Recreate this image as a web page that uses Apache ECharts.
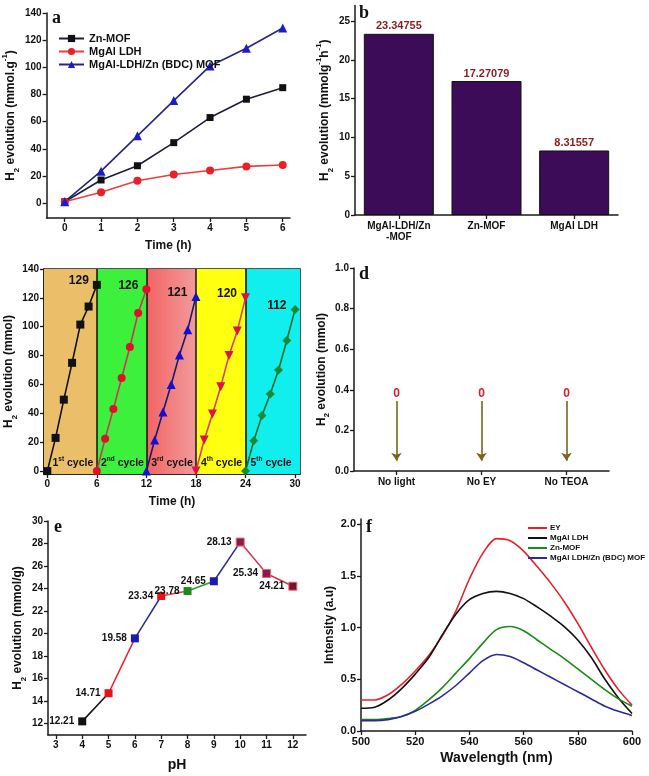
<!DOCTYPE html>
<html><head><meta charset="utf-8">
<script src="https://cdn.jsdelivr.net/npm/echarts@6/dist/echarts.min.js"></script>
<style>html,body{margin:0;padding:0;background:#fff}#c{width:649px;height:776px}</style>
</head><body><div id="c"></div>
<script>
// ---------- Panel a ----------
const aTime = [0, 1, 2, 3, 4, 5, 6];
const aZnMOF = [1, 17, 27.5, 44.5, 63, 76.5, 85];
const aMgAlLDH = [1, 8, 16.5, 21, 24, 27, 28];
const aComposite = [1, 23.5, 49.5, 75.5, 101, 114, 129];
const aXTicks = [0, 1, 2, 3, 4, 5, 6];
const aYTicks = [0, 20, 40, 60, 80, 100, 120, 140];
// ---------- Panel b ----------
const bCategories = ['MgAl-LDH/Zn\n-MOF', 'Zn-MOF', 'MgAl LDH'];
const bValues = [23.34755, 17.27079, 8.31557];
const bYTicks = [0, 5, 10, 15, 20, 25];
// ---------- Panel c ----------
const cHours = [0, 1, 2, 3, 4, 5, 6];
const cCycleStart = [0, 6, 12, 18, 24];
const cCycle1 = [0, 23, 49.5, 75, 101.5, 114, 129];
const cCycle2 = [0, 22.5, 43, 64.5, 86, 109.5, 126];
const cCycle3 = [0, 21.5, 41, 60, 80.5, 98, 121];
const cCycle4 = [0, 21.5, 39.5, 58.5, 80, 97, 120];
const cCycle5 = [0, 21, 38.5, 53.5, 70, 90.5, 112];
const cCycleNum = ['1', '2', '3', '4', '5'];
const cCycleSup = ['st', 'nd', 'rd', 'th', 'th'];
const cXTicks = [0, 6, 12, 18, 24, 30];
const cYTicks = [0, 20, 40, 60, 80, 100, 120, 140];
// ---------- Panel d ----------
const dCategories = ['No light', 'No EY', 'No TEOA'];
const dValues = [0, 0, 0];
const dYTicks = [0, 0.2, 0.4, 0.6, 0.8, 1.0];
// ---------- Panel e ----------
const ePH = [4, 5, 6, 7, 8, 9, 10, 11, 12];
const eValues = [12.21, 14.71, 19.58, 23.34, 23.78, 24.65, 28.13, 25.34, 24.21];
const eXTicks = [3, 4, 5, 6, 7, 8, 9, 10, 11, 12];
const eYTicks = [12, 14, 16, 18, 20, 22, 24, 26, 28, 30];
// ---------- Panel f ----------
const fWavelength = [500, 505, 510, 515, 520, 525, 530, 535, 540, 545, 550, 555, 560, 565, 570, 575, 580, 585, 590, 595, 600];
const fEY = [0.30, 0.30, 0.35, 0.45, 0.58, 0.73, 0.92, 1.16, 1.47, 1.72, 1.86, 1.84, 1.74, 1.59, 1.43, 1.25, 1.04, 0.81, 0.59, 0.40, 0.25];
const fMgAlLDH = [0.22, 0.23, 0.30, 0.41, 0.55, 0.71, 0.93, 1.13, 1.27, 1.33, 1.35, 1.33, 1.28, 1.20, 1.11, 1.01, 0.88, 0.71, 0.50, 0.32, 0.17];
const fZnMOF = [0.11, 0.11, 0.12, 0.14, 0.20, 0.30, 0.42, 0.56, 0.70, 0.85, 0.98, 1.01, 0.97, 0.88, 0.79, 0.70, 0.60, 0.50, 0.40, 0.31, 0.24];
const fComposite = [0.10, 0.10, 0.11, 0.14, 0.19, 0.26, 0.34, 0.44, 0.56, 0.68, 0.74, 0.72, 0.66, 0.59, 0.52, 0.45, 0.38, 0.31, 0.24, 0.19, 0.15];
const fXTicks = [500, 520, 540, 560, 580, 600];
const fYTicks = [0, 0.5, 1.0, 1.5, 2.0];

const FONT = '"Liberation Sans", Arial, sans-serif';
const AX = '#1a1a1a';

const nameRich = (fs) => ({
  t: { fontSize: fs, fontWeight: 'bold', fontFamily: FONT, color: '#111' },
  sub: { fontSize: fs * 0.65, fontWeight: 'bold', fontFamily: FONT, color: '#111', verticalAlign: 'bottom', padding: [0, 0, -4, 0] },
  sup: { fontSize: fs * 0.65, fontWeight: 'bold', fontFamily: FONT, color: '#111', verticalAlign: 'top', padding: [-4, 0, 0, 0] }
});

function valueAxis(o) {
  return {
    type: 'value', gridIndex: o.grid, min: o.min, max: o.max,
    axisLine: { show: true, onZero: false, lineStyle: { color: AX, width: 1.5 } },
    axisTick: { show: true, length: 4, lineStyle: { color: AX, width: 1.3 }, customValues: o.ticks },
    axisLabel: { color: '#111', fontFamily: FONT, fontWeight: 'bold', fontSize: o.fs || 10, margin: 5, customValues: o.ticks, formatter: o.fmt },
    splitLine: { show: false },
    name: o.name, nameLocation: 'middle', nameGap: o.nameGap,
    nameTextStyle: { fontSize: o.nfs || 12, fontWeight: 'bold', fontFamily: FONT, color: '#111', rich: nameRich(o.nfs || 12) }
  };
}
function catAxis(o) {
  return {
    type: 'category', gridIndex: o.grid, data: o.data, boundaryGap: true,
    axisLine: { show: true, lineStyle: { color: AX, width: 1.5 } },
    axisTick: { show: true, alignWithLabel: true, length: 4, lineStyle: { color: AX, width: 1.3 } },
    axisLabel: { color: '#111', fontFamily: FONT, fontWeight: 'bold', fontSize: 10, margin: 6, lineHeight: 11, interval: 0 },
    splitLine: { show: false }
  };
}

const grids = [
  { left: 45, top: 13, width: 245, height: 205 },
  { left: 355, top: 5.5, width: 263, height: 209.5 },
  { left: 44, top: 269, width: 256, height: 205, show: true, borderColor: AX, borderWidth: 1.5, backgroundColor: 'transparent' },
  { left: 354, top: 268, width: 255, height: 203 },
  { left: 48, top: 521, width: 258, height: 214 },
  { left: 361, top: 519, width: 271, height: 212 }
];

const xAxes = [
  valueAxis({ grid: 0, min: -0.5, max: 6.2, ticks: aXTicks, name: 'Time (h)', nameGap: 22 }),
  catAxis({ grid: 1, data: bCategories }),
  valueAxis({ grid: 2, min: -0.4, max: 30.6, ticks: cXTicks, name: 'Time (h)', nameGap: 22 }),
  catAxis({ grid: 3, data: dCategories }),
  valueAxis({ grid: 4, min: 2.7, max: 12.5, ticks: eXTicks, name: 'pH', nameGap: 23, nfs: 14 }),
  valueAxis({ grid: 5, min: 500, max: 600, ticks: fXTicks, name: 'Wavelength (nm)', nameGap: 20, nfs: 14, fs: 11 })
];
const yAxes = [
  valueAxis({ grid: 0, min: -11, max: 140, ticks: aYTicks, name: '{t|H}{sub|2}{t| evolution (mmol.g}{sup|-1}{t|)}', nameGap: 27 }),
  valueAxis({ grid: 1, min: 0, max: 27, ticks: bYTicks, name: '{t|H}{sub|2}{t| evolution (mmolg}{sup|-1}{t|h}{sup|-1}{t|)}', nameGap: 24 }),
  valueAxis({ grid: 2, min: -2, max: 140, ticks: cYTicks, name: '{t|H}{sub|2}{t| evolution (mmol)}', nameGap: 26 }),
  valueAxis({ grid: 3, min: 0, max: 1, ticks: dYTicks, fmt: v => v.toFixed(1), name: '{t|H}{sub|2}{t| evolution (mmol)}', nameGap: 23 }),
  valueAxis({ grid: 4, min: 11, max: 30, ticks: eYTicks, name: '{t|H}{sub|2}{t| evolution (mmol/g)}', nameGap: 23 }),
  valueAxis({ grid: 5, min: 0, max: 2.05, ticks: fYTicks, fmt: v => v.toFixed(1), name: 'Intensity (a.u)', nameGap: 25, fs: 11 })
];

const series = [];
const pair = (xs, ys) => xs.map((x, i) => [x, ys[i]]);
// Panel a
series.push({ type: 'line', name: 'Zn-MOF', xAxisIndex: 0, yAxisIndex: 0, data: pair(aTime, aZnMOF), symbol: 'rect', symbolSize: 7, lineStyle: { color: '#1e1e3c', width: 1.6 }, itemStyle: { color: '#111' } });
series.push({ type: 'line', name: 'MgAl LDH', xAxisIndex: 0, yAxisIndex: 0, data: pair(aTime, aMgAlLDH), symbol: 'circle', symbolSize: 8, lineStyle: { color: '#e84040', width: 1.6 }, itemStyle: { color: '#e8202a' } });
series.push({ type: 'line', name: 'MgAl-LDH/Zn (BDC) MOF', xAxisIndex: 0, yAxisIndex: 0, data: pair(aTime, aComposite), symbol: 'triangle', symbolSize: 9, lineStyle: { color: '#262680', width: 1.6 }, itemStyle: { color: '#1c1cc8' } });
// Panel b
series.push({ type: 'bar', name: 'rate', xAxisIndex: 1, yAxisIndex: 1, data: bValues, barWidth: 70,
  itemStyle: { color: '#3c0c58', borderColor: '#111', borderWidth: 1 },
  label: { show: true, position: 'top', distance: 2, color: '#8b1d1d', fontWeight: 'bold', fontSize: 11, fontFamily: FONT } });
// Panel c
const cData = [cCycle1, cCycle2, cCycle3, cCycle4, cCycle5];
const cLine = ['#111', '#c83a50', '#1a1a6a', '#d8406a', '#1a6a2a'];
const cMark = ['#111', '#e0102a', '#1010d0', '#e0104a', '#1a8a2a'];
const cSym = ['rect', 'circle', 'triangle', 'triangle', 'diamond'];
const cRot = [0, 0, 0, 180, 0];
const cSize = [8, 8, 9, 9, 9];
const cBandColors = ['#ebbf69', '#3cf03c', { type: 'linear', x: 0, y: 0, x2: 1, y2: 0, colorStops: [{ offset: 0, color: '#f26464' }, { offset: 1, color: '#f29a9a' }] }, '#ffff10', '#10eeee'];
const cBounds = [-0.4].concat(cCycleStart.slice(1), [30.6]);
cData.forEach((vals, k) => {
  const d = cHours.map((h, i) => {
    const p = { value: [cCycleStart[k] + h, vals[i]] };
    if (i === cHours.length - 1) p.label = { show: true };
    return p;
  });
  const s = { type: 'line', name: 'cycle' + (k + 1), xAxisIndex: 2, yAxisIndex: 2, data: d, symbol: cSym[k], symbolRotate: cRot[k], symbolSize: cSize[k],
    lineStyle: { color: cLine[k], width: 1.6 }, itemStyle: { color: cMark[k] }, z: 5,
    label: { show: false, position: 'left', distance: 4, offset: [0, -4], color: '#111', fontWeight: 'bold', fontSize: 12, fontFamily: FONT, formatter: p => String(Math.round(p.value[1])) } };
  if (k === 0) {
    s.markArea = { silent: true, z: 1, data: cBandColors.map((c, j) => [{ xAxis: cBounds[j], itemStyle: { color: c, opacity: 1 } }, { xAxis: cBounds[j + 1] }]) };
    s.markLine = { silent: true, symbol: 'none', label: { show: false }, lineStyle: { color: '#111', type: 'solid', width: 1.5 }, data: cCycleStart.slice(1).map(x => ({ xAxis: x })) };
  }
  series.push(s);
});
series.push({ type: 'scatter', name: 'cyclelabels', xAxisIndex: 2, yAxisIndex: 2, symbolSize: 0, silent: true, z: 6,
  itemStyle: { opacity: 1 },
  data: cCycleStart.map((s, k) => ({ value: [s + 3.1, 6], num: cCycleNum[k], sup: cCycleSup[k] })),
  label: { show: true, position: 'inside', formatter: p => '{n|' + p.data.num + '}{s|' + p.data.sup + '}{n| cycle}',
    rich: { n: { fontSize: 10.5, fontWeight: 'bold', fontFamily: FONT, color: '#111', lineHeight: 13, verticalAlign: 'bottom' },
            s: { fontSize: 6.5, fontWeight: 'bold', fontFamily: FONT, color: '#111', lineHeight: 13, verticalAlign: 'top' } } } });
// Panel d
const dArrowFrom = 0.345, dArrowTo = 0.05, dLabelY = 0.383;
series.push({ type: 'scatter', name: 'controls', xAxisIndex: 3, yAxisIndex: 3, symbolSize: 0, itemStyle: { opacity: 1 },
  data: dCategories.map((c, i) => ({ value: [i, dLabelY], v: dValues[i] })),
  label: { show: true, position: 'inside', color: '#d8202a', fontWeight: 'bold', fontSize: 12, fontFamily: FONT, formatter: p => String(p.data.v) },
  markLine: { silent: true, symbol: ['none', 'arrow'], symbolSize: 8, label: { show: false },
    lineStyle: { color: '#7a6418', type: 'solid', width: 1.6 },
    data: dCategories.map((c, i) => [{ coord: [i, dArrowFrom] }, { coord: [i, dArrowTo] }]) } });
// Panel e
const eSegColors = ['#111', '#e8202a', '#2a2a9a', '#e84040', '#2a9a2a', '#2a2a9a', '#c83a50', '#c83a50'];
const ePtColors = ['#111', '#e8101a', '#1a1ab0', '#e8101a', '#1a8a1a', '#1a1ab0', '#8a1a4a', '#8a1a4a', '#7a1030'];
for (let i = 0; i < ePH.length - 1; i++) {
  series.push({ type: 'line', name: 'eseg' + i, xAxisIndex: 4, yAxisIndex: 4, symbol: 'none', data: [[ePH[i], eValues[i]], [ePH[i + 1], eValues[i + 1]]], lineStyle: { color: eSegColors[i], width: 1.5 } });
}
series.push({ type: 'scatter', name: 'epts', xAxisIndex: 4, yAxisIndex: 4, symbol: 'rect', symbolSize: 8, z: 5,
  data: ePH.map((p, i) => ({ value: [p, eValues[i]], itemStyle: { opacity: 1, color: ePtColors[i], borderColor: '#e86a6a', borderWidth: i >= 6 ? 1 : 0 } })),
  label: { show: true, position: 'left', distance: 4, color: '#111', fontWeight: 'bold', fontSize: 10, fontFamily: FONT, formatter: p => p.value[1].toFixed(2) } });
// Panel f
const fNames = ['EY', 'MgAl LDH ', 'Zn-MOF ', 'MgAl LDH/Zn (BDC) MOF'];
const fColors = ['#e8202a', '#111', '#1a8a1a', '#2a2a9a'];
[fEY, fMgAlLDH, fZnMOF, fComposite].forEach((ys, k) => {
  series.push({ type: 'line', name: fNames[k], xAxisIndex: 5, yAxisIndex: 5, symbol: 'none', smooth: 0.3, data: pair(fWavelength, ys), lineStyle: { color: fColors[k], width: 1.6 }, itemStyle: { color: fColors[k] } });
});

const letters = [['a', 52, 9], ['b', 359, 4], ['c', 50, 274], ['d', 359, 265], ['e', 54, 518], ['f', 366, 518]];
const option = {
  animation: false,
  backgroundColor: '#fff',
  grid: grids, xAxis: xAxes, yAxis: yAxes, series: series,
  legend: [
    { data: ['Zn-MOF', 'MgAl LDH', 'MgAl-LDH/Zn (BDC) MOF'], left: 53, top: 28, orient: 'vertical', itemGap: 2, itemWidth: 25, itemHeight: 9,
      textStyle: { fontSize: 11, fontWeight: 'bold', fontFamily: FONT, color: '#111' } },
    { data: fNames, left: 523, top: 519, orient: 'vertical', itemGap: 2, itemWidth: 19, itemHeight: 2, icon: 'rect',
      textStyle: { fontSize: 8, lineHeight: 8, fontWeight: 'bold', fontFamily: FONT, color: '#111', padding: [0, 0, 0, -2] } }
  ],
  graphic: letters.map(l => ({ type: 'text', left: l[1], top: l[2], style: { text: l[0], font: 'bold 18px "Liberation Serif", "DejaVu Serif", serif', fill: '#111' } }))
};
const chart = echarts.init(document.getElementById('c'));
chart.setOption(option);
</script></body></html>
